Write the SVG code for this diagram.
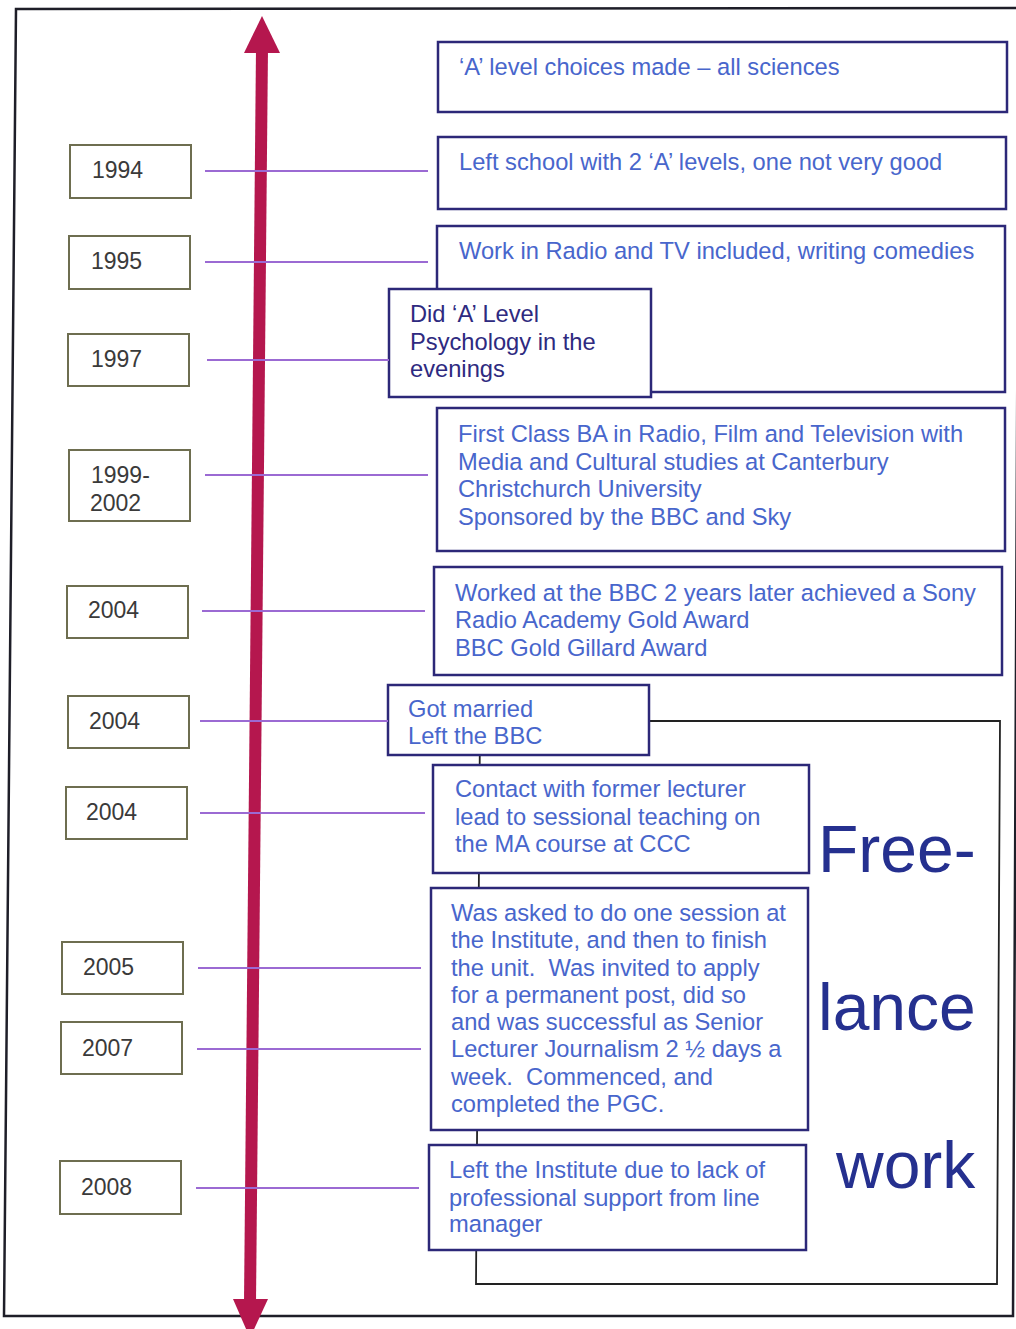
<svg xmlns="http://www.w3.org/2000/svg" width="1016" height="1329" viewBox="0 0 1016 1329">
  <style>
    text { font-family: "Liberation Sans", Arial, sans-serif; white-space: pre; }
    .year rect { fill: #ffffff; stroke: #6e6e50; stroke-width: 2; }
    .year text { font-size: 23px; fill: #3a3a3a; }
    .event rect { fill: #ffffff; stroke: #2c2878; stroke-width: 2.5; }
    .event text { font-size: 23.7px; fill: #4866cc; }
    .event.dark text { fill: #2e2a80; }
    .link { stroke: #9b6ad3; stroke-width: 2; fill: none; }
    .big { font-size: 66px; fill: #25308f; }
  </style>

  <rect x="0" y="0" width="1016" height="1329" fill="#ffffff"/>

  <!-- page frame -->
  <path d="M1019,8 L16,9 L4,1316 L1013,1316 L1019,8" fill="none" stroke="#1e1e28" stroke-width="2.5"/>

  <!-- freelance period bracket -->
  <g id="freelance">
    <path d="M480,721 L1000,721 L997,1284 L476,1284 Z" fill="none" stroke="#222222" stroke-width="1.8"/>
    <text class="big" x="818" y="872">Free-</text>
    <text class="big" x="818" y="1030">lance</text>
    <text class="big" x="836" y="1188">work</text>
  </g>

  <!-- time axis -->
  <g id="axis">
    <line x1="262" y1="48" x2="250" y2="1302" stroke="#b5174e" stroke-width="12"/>
    <polygon points="262,16 280,53 244,53" fill="#b5174e"/>
    <polygon points="233,1299 268,1299 250,1338" fill="#b5174e"/>
  </g>

  <!-- year labels -->
  <g id="y1994" class="year"><rect x="70" y="145" width="121" height="53"/><text x="92" y="178">1994</text></g>
  <g id="y1995" class="year"><rect x="69" y="236" width="121" height="53"/><text x="91" y="269">1995</text></g>
  <g id="y1997" class="year"><rect x="68" y="334" width="121" height="52"/><text x="91" y="367">1997</text></g>
  <g id="y1999" class="year"><rect x="69" y="450" width="121" height="71"/><text x="91" y="483">1999-</text><text x="90" y="511">2002</text></g>
  <g id="y2004a" class="year"><rect x="67" y="586" width="121" height="52"/><text x="88" y="618">2004</text></g>
  <g id="y2004b" class="year"><rect x="68" y="696" width="121" height="52"/><text x="89" y="729">2004</text></g>
  <g id="y2004c" class="year"><rect x="66" y="787" width="121" height="52"/><text x="86" y="820">2004</text></g>
  <g id="y2005" class="year"><rect x="62" y="942" width="121" height="52"/><text x="83" y="975">2005</text></g>
  <g id="y2007" class="year"><rect x="61" y="1022" width="121" height="52"/><text x="82" y="1056">2007</text></g>
  <g id="y2008" class="year"><rect x="60" y="1161" width="121" height="53"/><text x="81" y="1195">2008</text></g>

  <!-- events -->
  <g id="e-alevels" class="event"><rect x="438" y="42" width="569" height="70"/><text x="459" y="75">‘A’ level choices made – all sciences</text></g>
  <g id="e-leftschool" class="event"><rect x="438" y="137" width="568" height="72"/><text x="459" y="170">Left school with 2 ‘A’ levels, one not very good</text></g>
  <g id="e-radiotv" class="event"><rect x="437" y="226" width="568" height="166"/><text x="459" y="259">Work in Radio and TV included, writing comedies</text></g>
  <g id="e-psychology" class="event dark"><rect x="389" y="289" width="262" height="108"/><text x="410" y="322">Did ‘A’ Level</text><text x="410" y="350">Psychology in the</text><text x="410" y="377">evenings</text></g>
  <g id="e-degree" class="event"><rect x="437" y="408" width="568" height="143"/><text x="458" y="442">First Class BA in Radio, Film and Television with</text><text x="458" y="470">Media and Cultural studies at Canterbury</text><text x="458" y="497">Christchurch University</text><text x="458" y="525">Sponsored by the BBC and Sky</text></g>
  <g id="e-bbc" class="event"><rect x="434" y="567" width="568" height="108"/><text x="455" y="601">Worked at the BBC 2 years later achieved a Sony</text><text x="455" y="628">Radio Academy Gold Award</text><text x="455" y="656">BBC Gold Gillard Award</text></g>
  <g id="e-married" class="event"><rect x="388" y="685" width="261" height="70"/><text x="408" y="717">Got married</text><text x="408" y="744">Left the BBC</text></g>
  <g id="e-sessional" class="event"><rect x="433" y="765" width="376" height="108"/><text x="455" y="797">Contact with former lecturer</text><text x="455" y="825">lead to sessional teaching on</text><text x="455" y="852">the MA course at CCC</text></g>
  <g id="e-institute" class="event"><rect x="431" y="888" width="377" height="242"/>
    <text x="451" y="921">Was asked to do one session at</text>
    <text x="451" y="948">the Institute, and then to finish</text>
    <text x="451" y="976">the unit.  Was invited to apply</text>
    <text x="451" y="1003">for a permanent post, did so</text>
    <text x="451" y="1030">and was successful as Senior</text>
    <text x="451" y="1057">Lecturer Journalism 2 ½ days a</text>
    <text x="451" y="1085">week.  Commenced, and</text>
    <text x="451" y="1112">completed the PGC.</text>
  </g>
  <g id="e-left" class="event"><rect x="429" y="1145" width="377" height="105"/><text x="449" y="1178">Left the Institute due to lack of</text><text x="449" y="1206">professional support from line</text><text x="449" y="1232">manager</text></g>

  <!-- year-to-event links -->
  <g id="connectors">
    <line class="link" x1="205" y1="171" x2="428" y2="171"/>
    <line class="link" x1="205" y1="262" x2="428" y2="262"/>
    <line class="link" x1="207" y1="360" x2="389" y2="360"/>
    <line class="link" x1="205" y1="475" x2="428" y2="475"/>
    <line class="link" x1="202" y1="611" x2="425" y2="611"/>
    <line class="link" x1="200" y1="721" x2="388" y2="721"/>
    <line class="link" x1="200" y1="813" x2="425" y2="813"/>
    <line class="link" x1="198" y1="968" x2="421" y2="968"/>
    <line class="link" x1="197" y1="1049" x2="421" y2="1049"/>
    <line class="link" x1="196" y1="1188" x2="419" y2="1188"/>
  </g>
</svg>
